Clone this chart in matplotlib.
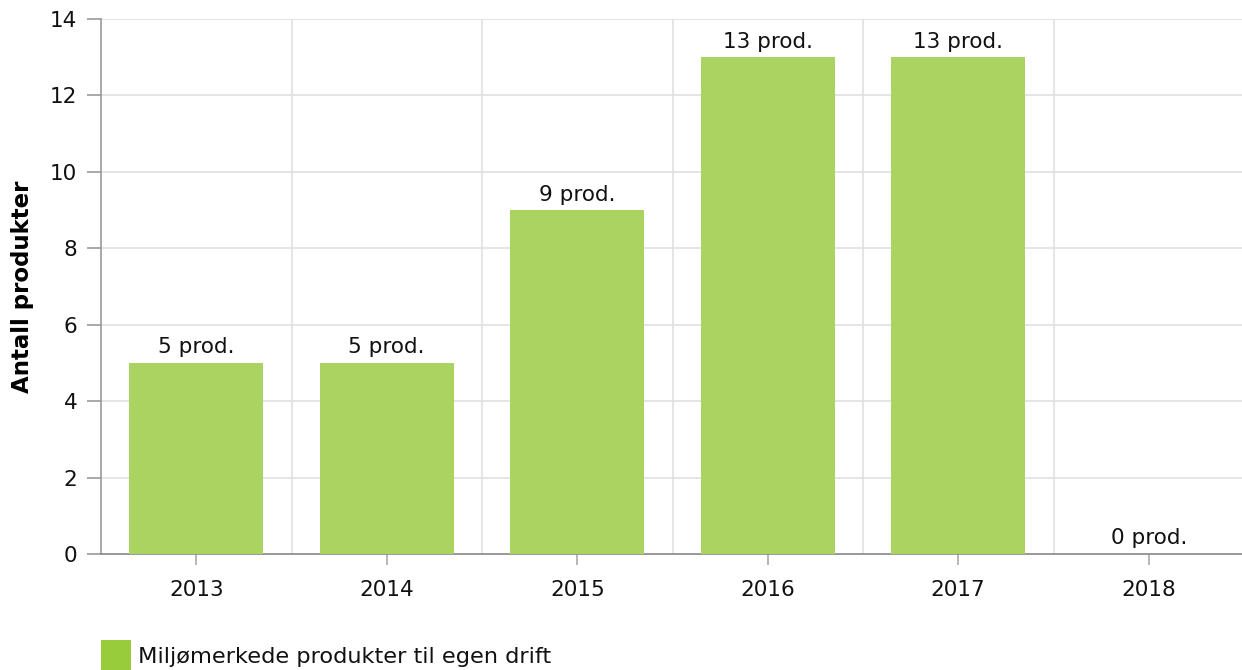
import matplotlib
matplotlib.use("Agg")
import matplotlib.pyplot as plt
from matplotlib.patches import Rectangle

years = ["2013", "2014", "2015", "2016", "2017", "2018"]
values = [5, 5, 9, 13, 13, 0]
bar_labels = ["5 prod.", "5 prod.", "9 prod.", "13 prod.", "13 prod.", "0 prod."]
y_ticks = [0, 2, 4, 6, 8, 10, 12, 14]
series_name = "Miljømerkede produkter til egen drift"
y_title = "Antall produkter"

plt.rcParams['font.family'] = ['DejaVu Sans']
FS = 15.5

fig = plt.figure(figsize=(12.42, 6.70), dpi=100)
ax = fig.add_axes([101/1242, 1-554/670, 1143/1242, 535/670])

x = list(range(len(years)))
ax.bar(x, values, width=0.705, color='#aad361', zorder=3)

ax.set_xlim(-0.5, len(years) - 0.5)
ax.set_ylim(0, 14)
ax.set_yticks(y_ticks)
ax.set_yticklabels([str(v) for v in y_ticks], fontsize=FS, color='#111111')
ax.set_xticks(x)
ax.set_xticklabels(years, fontsize=FS, color='#111111')

# grid
for v in y_ticks[1:]:
    ax.axhline(v, color='#e0e0e0', lw=1.2, zorder=1)
for b in range(1, len(years)):
    ax.axvline(b - 0.5, color='#e0e0e0', lw=1.2, zorder=1)

for s in ['top', 'right']:
    ax.spines[s].set_visible(False)
ax.spines['left'].set_color('#999999')
ax.spines['bottom'].set_color('#888888')
ax.spines['left'].set_linewidth(1.2)
ax.spines['bottom'].set_linewidth(1.2)
ax.tick_params(axis='y', length=10, width=1.2, color='#999999', pad=7)
ax.tick_params(axis='x', length=8, width=1.2, color='#aaaaaa', pad=11)

for xi, v, lab in zip(x, values, bar_labels):
    ax.annotate(lab, (xi, v), xytext=(0, 4), textcoords='offset points',
                ha='center', va='bottom', fontsize=FS, color='#111111', zorder=4)

ax.set_ylabel(y_title, fontsize=16.5, fontweight='bold')
ax.yaxis.set_label_coords(-67/1143, 0.5)

# legend
fig.patches.append(Rectangle((101/1242, 0), 30/1242, 30/670, transform=fig.transFigure,
                             facecolor='#99cc3a', edgecolor='none'))
fig.text(138/1242, 1-657/670, series_name, fontsize=16.2, va='center', ha='left', color='#111111')

fig.savefig("out.png", dpi=100)
